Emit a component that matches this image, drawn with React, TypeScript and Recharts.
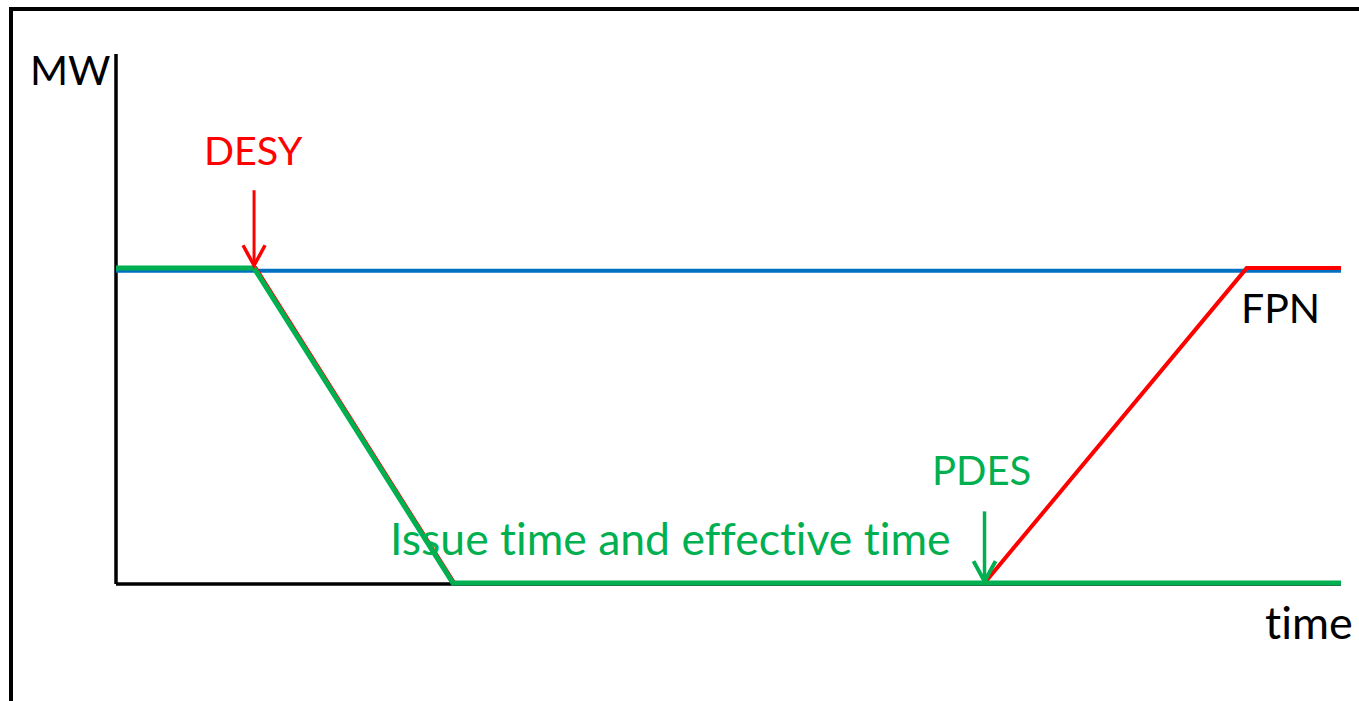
import React from "react";
import { LineChart, Line, XAxis, YAxis, ReferenceLine } from "recharts";

// time is 0-100 along the axis, MW is 0-100 up the axis
const fpnTime = [0, 100];
const fpnMw = [59.1, 59.1];

const boaTime = [0, 11.4, 27.6, 70.9, 92.3, 100];
const boaMw = [59.6, 59.6, 0.2, 0.2, 59.6, 59.6];

const pdesTime = [0, 11.27, 27.5, 100];
const pdesMw = [59.6, 59.6, 0.2, 0.2];

// arrow markers: [time, fromMw, toMw]
const desyArrow = [11.27, 74.3, 60.1];
const pdesArrow = [70.9, 13.7, 0.5];

const toRows = (t: number[], mw: number[]) => t.map((v, i) => ({ t: v, mw: mw[i] }));

const fpnData = toRows(fpnTime, fpnMw);
const boaData = toRows(boaTime, boaMw);
const pdesData = toRows(pdesTime, pdesMw);

const BLUE = "#0070C0";
const RED = "#FF0000";
const GREEN = "#00B050";
const FONT = "Lato, 'Open Sans', sans-serif";

const W = 1359;
const H = 701;

function arrowShape(props: any) {
  const { x1, y1, x2, y2, stroke, strokeWidth } = props;
  const ang = Math.atan2(y2 - y1, x2 - x1);
  const len = 23;
  const spread = 0.5;
  const ax = x2 - len * Math.cos(ang - spread);
  const ay = y2 - len * Math.sin(ang - spread);
  const bx = x2 - len * Math.cos(ang + spread);
  const by = y2 - len * Math.sin(ang + spread);
  return (
    <g>
      <line x1={x1} y1={y1} x2={x2} y2={y2} stroke={stroke} strokeWidth={strokeWidth} />
      <polyline
        points={`${ax},${ay} ${x2},${y2} ${bx},${by}`}
        fill="none"
        stroke={stroke}
        strokeWidth={strokeWidth + 0.5}
      />
    </g>
  );
}

export default function App() {
  return (
    <div style={{ position: "fixed", left: 0, top: 0, width: W, height: H, overflow: "hidden", background: "#fff" }}>
      {/* frame */}
      <div
        style={{
          position: "absolute",
          left: 9,
          top: 7,
          width: W,
          height: H,
          borderTop: "4px solid #000",
          borderLeft: "4px solid #000",
        }}
      />
      <div style={{ position: "absolute", left: 0, top: 0 }}>
        <LineChart width={W} height={H} margin={{ top: 54, right: 18, bottom: 116, left: 115 }}>
          <XAxis
            dataKey="t"
            type="number"
            domain={[0, 100]}
            height={1}
            tick={false}
            tickLine={false}
            axisLine={{ stroke: "#000", strokeWidth: 3.5 }}
          />
          <YAxis
            type="number"
            domain={[0, 100]}
            width={1}
            tick={false}
            tickLine={false}
            axisLine={{ stroke: "#000", strokeWidth: 3.5 }}
          />
          <Line data={fpnData} dataKey="mw" stroke={BLUE} strokeWidth={4} dot={false} isAnimationActive={false} zIndex={600} />
          <Line data={boaData} dataKey="mw" stroke={RED} strokeWidth={4} dot={false} isAnimationActive={false} zIndex={610} />
          <Line data={pdesData} dataKey="mw" stroke={GREEN} strokeWidth={5} dot={false} isAnimationActive={false} zIndex={620} />
          <ReferenceLine
            segment={[
              { x: desyArrow[0], y: desyArrow[1] },
              { x: desyArrow[0], y: desyArrow[2] },
            ]}
            stroke={RED}
            strokeWidth={3}
            shape={arrowShape}
            zIndex={700}
          />
          <ReferenceLine
            segment={[
              { x: pdesArrow[0], y: pdesArrow[1] },
              { x: pdesArrow[0], y: pdesArrow[2] },
            ]}
            stroke={GREEN}
            strokeWidth={3.5}
            shape={arrowShape}
            zIndex={700}
          />
        </LineChart>
      </div>
      {/* annotations */}
      <svg width={W} height={H} style={{ position: "absolute", left: 0, top: 0, pointerEvents: "none", fontVariantLigatures: "none" }}>
        <g fontFamily={FONT}>
          <text x={30} y={85} fill="#000" fontSize={41}>MW</text>
          <text x={204} y={165} fill={RED} fontSize={39.5}>DESY</text>
          <text x={932} y={485} fill={GREEN} fontSize={40}>PDES</text>
          <text x={390} y={555} fill={GREEN} fontSize={44.5}>Issue time and effective time</text>
          <text x={1241} y={323} fill="#000" fontSize={41}>FPN</text>
          <text x={1265} y={639} fill="#000" fontSize={45}>time</text>
        </g>
      </svg>
    </div>
  );
}
